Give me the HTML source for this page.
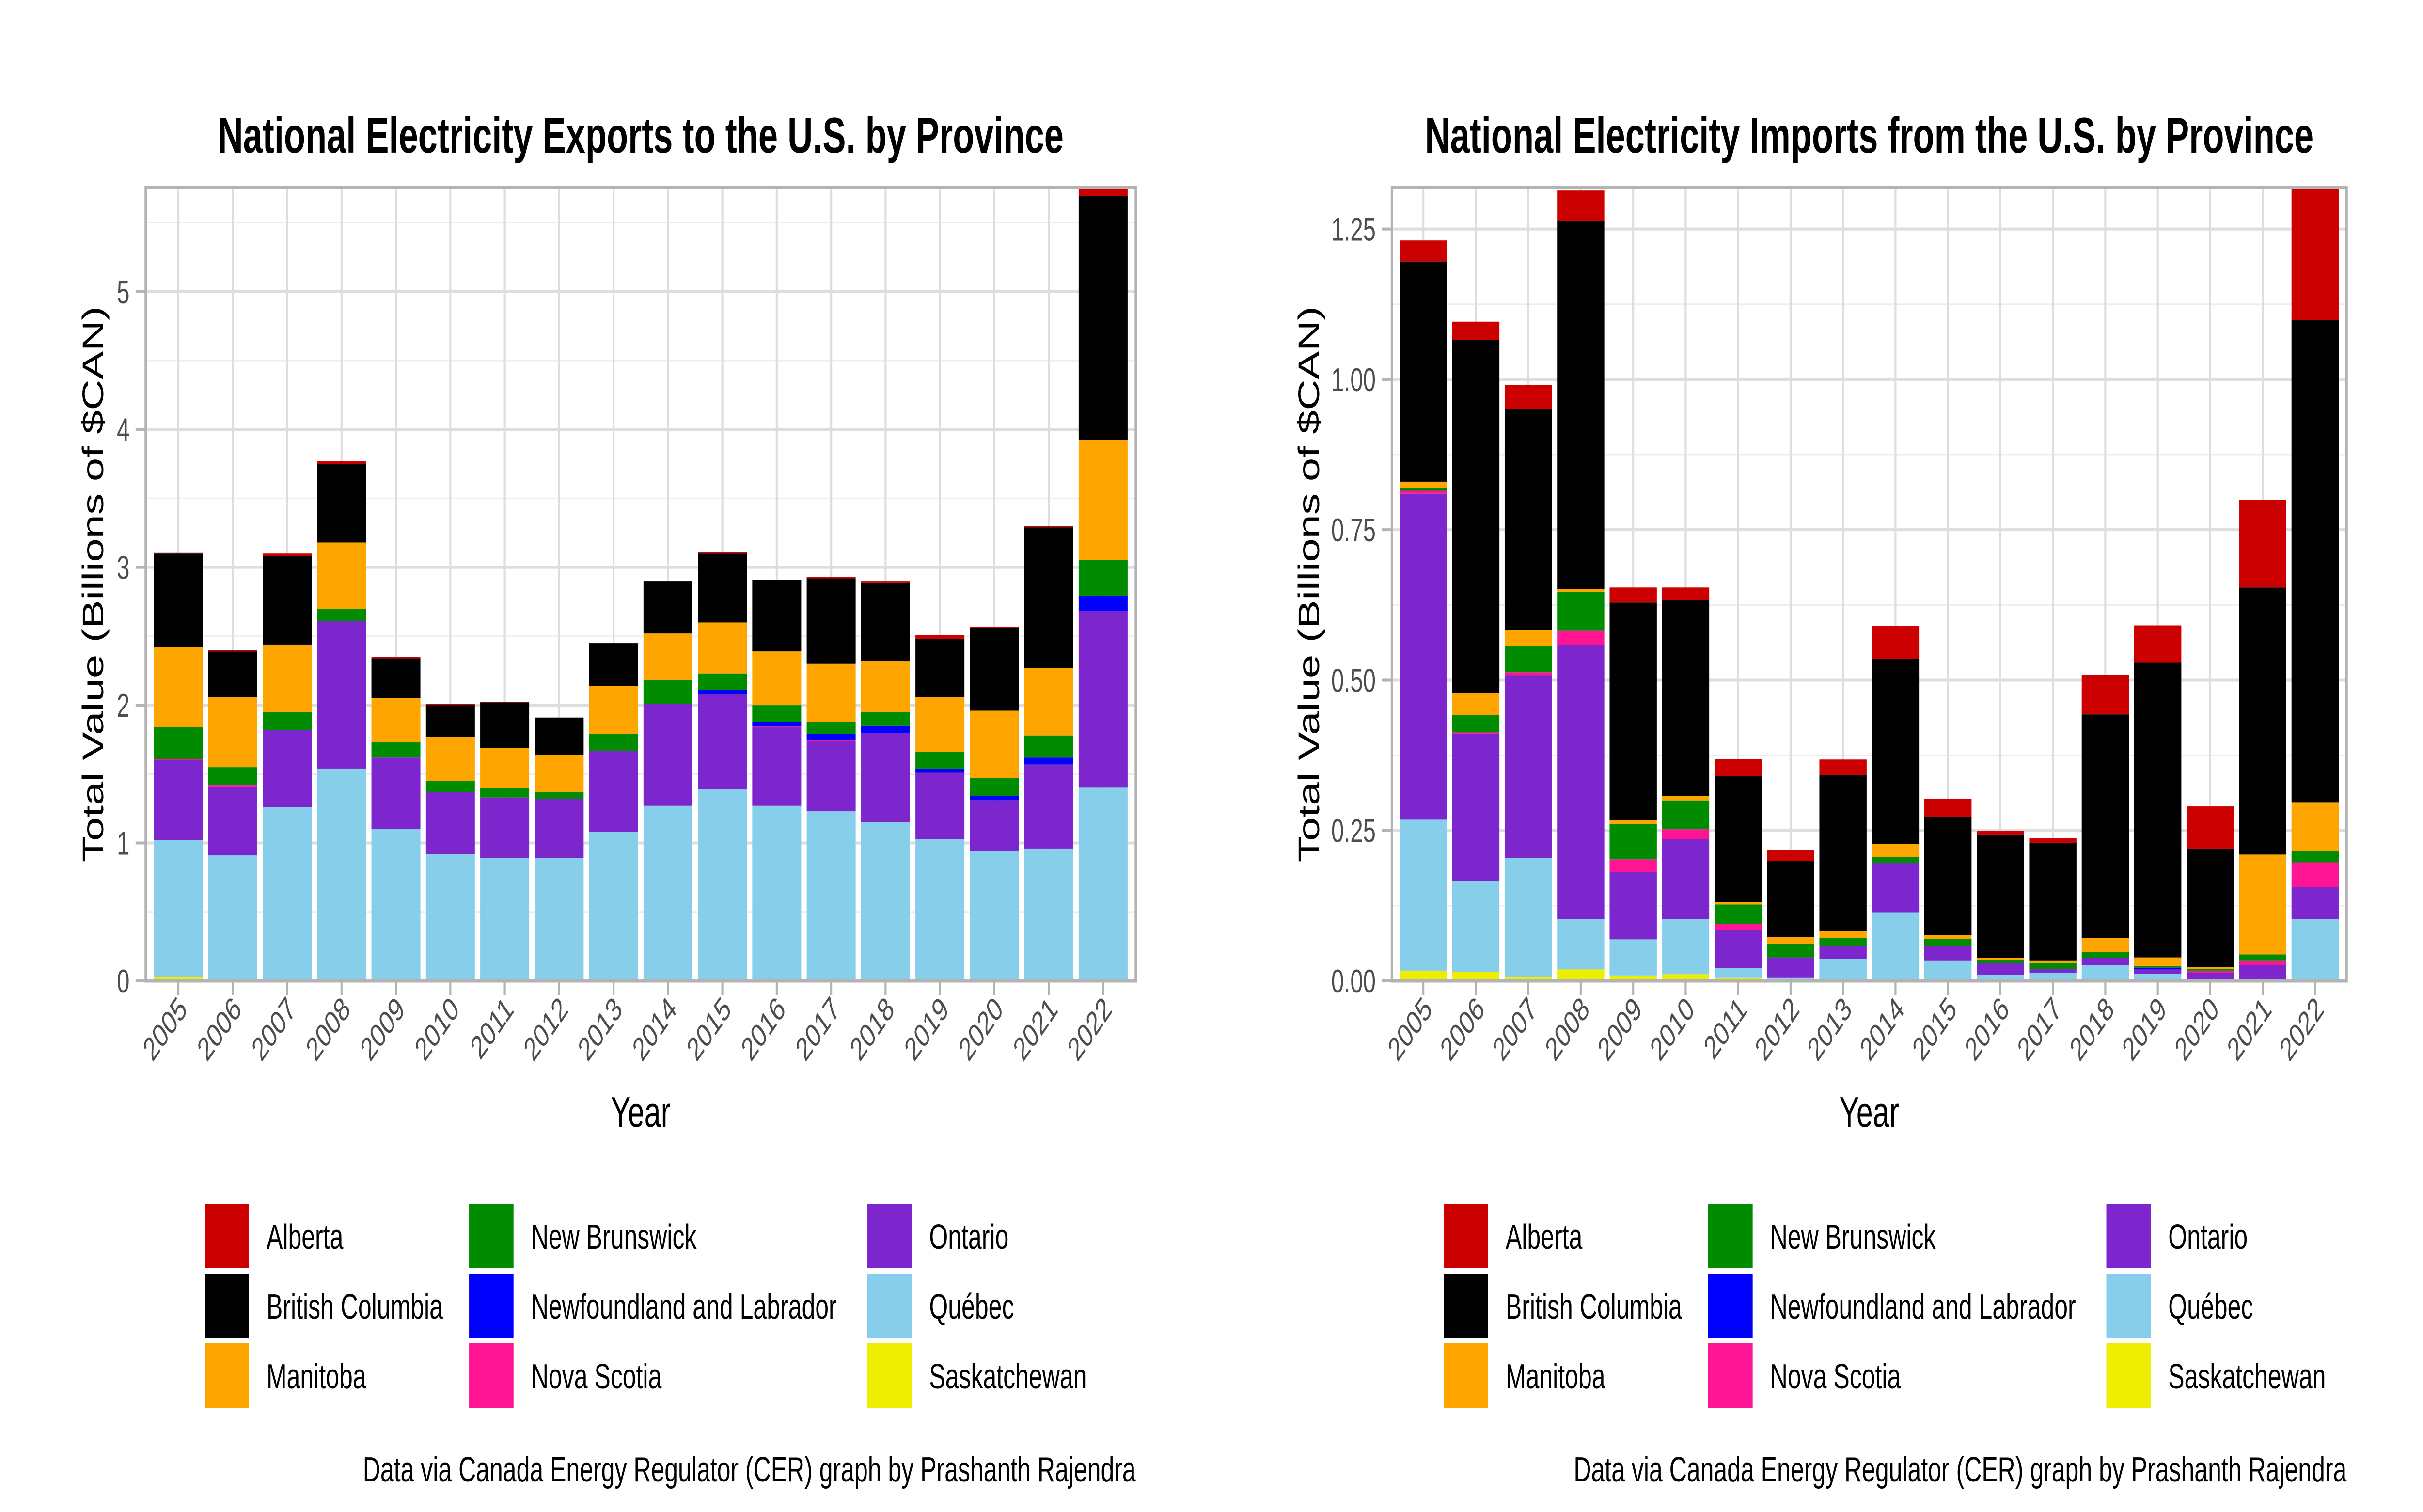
<!DOCTYPE html>
<html><head><meta charset="utf-8">
<style>
html,body{margin:0;padding:0;background:#fff;width:100%;height:100%;overflow:hidden;}
svg{display:block;font-family:"Liberation Sans",sans-serif;width:100vw;height:100vh;}
</style></head>
<body>
<svg id="chart" viewBox="0 0 7200 3120" preserveAspectRatio="none" xmlns="http://www.w3.org/2000/svg"></svg>
<script>
const years = ["2005","2006","2007","2008","2009","2010","2011","2012","2013","2014","2015","2016","2017","2018","2019","2020","2021","2022"];
const provinces = ["Saskatchewan","Québec","Ontario","Nova Scotia","Newfoundland and Labrador","New Brunswick","Manitoba","British Columbia","Alberta"];
const provinceColors = ["#EEEE00","#87CEEB","#7D26CD","#FF1493","#0000FF","#008B00","#FFA500","#000000","#CC0000"];
const legendOrder = ["Alberta","British Columbia","Manitoba","New Brunswick","Newfoundland and Labrador","Nova Scotia","Ontario","Québec","Saskatchewan"];

// Exports (billions $CAN)
const expSk = [0.03,0.005,0.01,0,0,0,0,0,0,0,0,0,0,0,0,0,0,0.005];
const expQc = [0.99,0.905,1.25,1.54,1.10,0.92,0.89,0.89,1.08,1.27,1.39,1.27,1.23,1.15,1.03,0.94,0.96,1.40];
const expOn = [0.58,0.50,0.56,1.07,0.52,0.45,0.44,0.43,0.59,0.74,0.69,0.57,0.51,0.65,0.48,0.37,0.61,1.28];
const expNS = [0.01,0.01,0,0,0,0,0,0,0,0,0,0.005,0.01,0,0,0,0,0];
const expNL = [0,0,0,0,0,0,0,0,0,0,0.03,0.035,0.04,0.05,0.03,0.03,0.05,0.11];
const expNB = [0.23,0.13,0.13,0.09,0.11,0.08,0.07,0.05,0.12,0.17,0.12,0.12,0.09,0.10,0.12,0.13,0.16,0.26];
const expMb = [0.58,0.51,0.49,0.48,0.32,0.32,0.29,0.27,0.35,0.34,0.37,0.39,0.42,0.37,0.40,0.49,0.49,0.87];
const expBC = [0.68,0.33,0.64,0.57,0.29,0.23,0.33,0.27,0.31,0.38,0.50,0.52,0.62,0.57,0.42,0.60,1.02,1.77];
const expAb = [0.005,0.01,0.02,0.02,0.01,0.01,0.003,0,0,0,0.01,0,0.01,0.01,0.03,0.01,0.01,0.06];
const expTicks = ["0","1","2","3","4","5"];

// Imports (billions $CAN)
const impSk = [0.017,0.015,0.006,0.019,0.009,0.011,0.005,0,0,0,0,0,0,0.002,0,0,0,0];
const impQc = [0.251,0.151,0.198,0.084,0.06,0.092,0.016,0.005,0.037,0.114,0.034,0.01,0.013,0.024,0.012,0,0,0.103];
const impOn = [0.542,0.245,0.304,0.456,0.112,0.133,0.063,0.034,0.021,0.082,0.024,0.019,0.007,0.012,0.007,0.013,0.026,0.053];
const impNS = [0.005,0.002,0.005,0.023,0.021,0.016,0.011,0,0,0,0,0,0,0,0,0.004,0.008,0.041];
const impNL = [0,0,0,0,0,0,0,0,0,0,0,0,0,0,0.003,0,0,0];
const impNB = [0.004,0.029,0.044,0.065,0.059,0.048,0.032,0.023,0.013,0.01,0.012,0.006,0.009,0.01,0.003,0.003,0.01,0.019];
const impMb = [0.011,0.037,0.027,0.004,0.006,0.007,0.004,0.011,0.012,0.022,0.006,0.003,0.005,0.023,0.014,0.003,0.166,0.081];
const impBC = [0.366,0.587,0.367,0.613,0.362,0.326,0.209,0.126,0.259,0.307,0.197,0.205,0.195,0.372,0.49,0.197,0.444,0.802];
const impAb = [0.035,0.03,0.04,0.05,0.025,0.021,0.029,0.019,0.026,0.055,0.03,0.006,0.008,0.066,0.062,0.07,0.146,0.22];
const impTicks = ["0.00","0.25","0.50","0.75","1.00","1.25"];

const NS = "http://www.w3.org/2000/svg";
const svg = document.getElementById("chart");
function mk(tag, attrs, parent){
  const e = document.createElementNS(NS, tag);
  for (const k in attrs) e.setAttribute(k, attrs[k]);
  (parent||svg).appendChild(e);
  return e;
}

function drawChart(cfg){
  const g = mk("g", {});
  
  
  const L = cfg.left, R = cfg.right, T = 387, B = 2024;
  const series = cfg.series;
  const n = years.length;
  const totals = years.map((_, i) => series.reduce((s, a) => s + a[i], 0));
  const ymax = Math.max(...totals);
  const yS = v => B - (v / ymax) * (B - T);
  const pitch = (R - L) / (n - 1 + 1.2);
  const xS = i => L + pitch * (0.6 + i);
  const bw = pitch * 0.9;
  const tickVals = cfg.ticks.map(t => parseFloat(t));
  const step = tickVals[1] - tickVals[0];

  mk("rect", {x:L, y:T, width:R-L, height:B-T, fill:"#fff"}, g);
  for (let v = step/2; v < ymax; v += step){
    const ln = mk("line", {x1:L, x2:R, y1:yS(v), y2:yS(v), stroke:"#ededed", "stroke-width":3}, g);
    
    
  }
  tickVals.forEach(v => {
    const ln = mk("line", {x1:L, x2:R, y1:yS(v), y2:yS(v), stroke:"#dedede", "stroke-width":6}, g);
    
    
  });
  years.forEach((y, i) => {
    const ln = mk("line", {x1:xS(i), x2:xS(i), y1:T, y2:B, stroke:"#dedede", "stroke-width":6}, g);
    
    
  });
  years.forEach((y, i) => {
    let cum = 0;
    series.forEach((arr, s) => {
      const v = arr[i];
      if (v > 0){
        const r = mk("rect", {x:xS(i)-bw/2, y:yS(cum+v), width:bw, height:yS(cum)-yS(cum+v), fill:provinceColors[s]}, g);
        
        
      }
      cum += v;
    });
  });
  const bd = mk("rect", {x:L, y:T, width:R-L, height:B-T, fill:"none", stroke:"#b3b3b3", "stroke-width":7}, g);
  
  
  cfg.ticks.forEach((t, k) => {
    const yy = yS(tickVals[k]);
    mk("line", {x1:L-30, x2:L, y1:yy, y2:yy, stroke:"#b3b3b3", "stroke-width":6}, g);
    const tx = mk("text", {x:L-48, y:yy+24, "text-anchor":"end", "font-size":68, fill:"#4d4d4d"}, g);
    tx.textContent = t;
    
    
  });
  years.forEach((y, i) => {
    const xx = xS(i);
    mk("line", {x1:xx, x2:xx, y1:B, y2:B+30, stroke:"#b3b3b3", "stroke-width":6}, g);
    const tx = mk("text", {x:xx+30, y:B+62, "text-anchor":"end", "font-size":68, fill:"#4d4d4d",
      transform:"rotate(-45 " + (xx+30) + " " + (B+62) + ")"}, g);
    tx.textContent = y;
    
    
  });
  const cx = (L + R) / 2;
  const ti = mk("text", {x:cx, y:315, "text-anchor":"middle", "font-size":104, "font-weight":"bold", fill:"#000"}, g);
  ti.textContent = cfg.title;
  
  
  const xt = mk("text", {x:cx, y:2325, "text-anchor":"middle", "font-size":88, fill:"#000"}, g);
  xt.textContent = "Year";
  
  
  const ycx = cfg.ylabX, ycy = (T + B) / 2;
  const yt = mk("text", {x:ycx, y:ycy + 30, "text-anchor":"middle", "font-size":88, fill:"#000",
    transform:"rotate(-90 " + ycx + " " + ycy + ")"}, g);
  yt.textContent = "Total Value (Billions of $CAN)";
  
  
  const cols = [0, 786, 1969];
  legendOrder.forEach((name, k) => {
    const c = Math.floor(k / 3), r = k % 3;
    const kx = cfg.legendX + cols[c], ky = 2484 + r * 144;
    const col = provinceColors[provinces.indexOf(name)];
    const kr = mk("rect", {x:kx, y:ky, width:132, height:133, fill:col}, g);
    
    
    const lt = mk("text", {x:kx + 184, y:ky + 93, "font-size":72, fill:"#000"}, g);
    lt.textContent = name;
    
    
  });
  const cap = mk("text", {x:R, y:3057, "text-anchor":"end", "font-size":72, fill:"#000"}, g);
  cap.textContent = "Data via Canada Energy Regulator (CER) graph by Prashanth Rajendra";
  
  
}

drawChart({name:"exports-chart", left:433, right:3375, ylabX:277, legendX:608,
  title:"National Electricity Exports to the U.S. by Province", ticks:expTicks,
  series:[expSk,expQc,expOn,expNS,expNL,expNB,expMb,expBC,expAb]});
drawChart({name:"imports-chart", left:4136, right:6973, ylabX:3890, legendX:4290,
  title:"National Electricity Imports from the U.S. by Province", ticks:impTicks,
  series:[impSk,impQc,impOn,impNS,impNL,impNB,impMb,impBC,impAb]});
</script>
</body></html>
